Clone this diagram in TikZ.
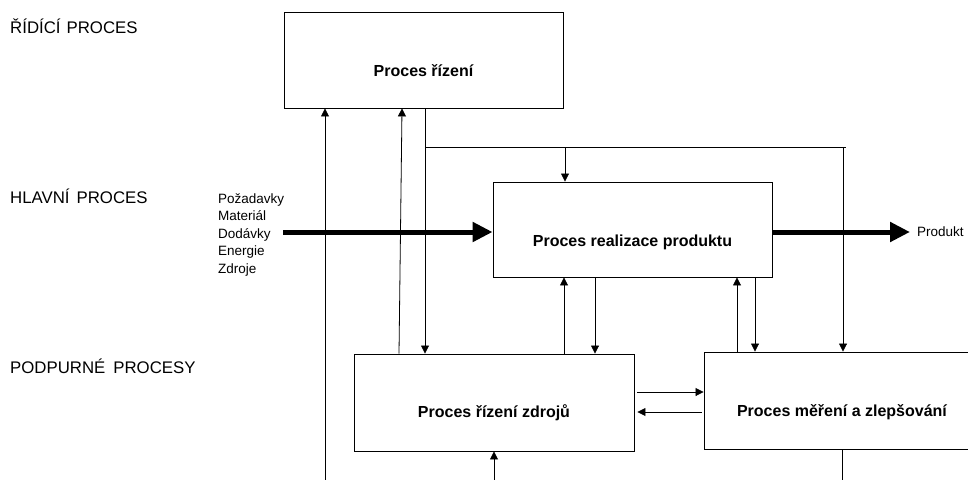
\documentclass[tikz,border=0pt]{standalone}
\usepackage{fontspec}
\setmainfont{Liberation Sans}
\usetikzlibrary{arrows.meta}
\begin{document}
\begin{tikzpicture}[x=1pt,y=-1pt,
  proc/.style={draw, line width=0.9pt, inner sep=0pt, minimum width=279pt, minimum height=96pt},
  ptext/.style={font=\fontsize{16}{19}\selectfont\bfseries, inner sep=0pt},
  lvl/.style={anchor=base west, inner sep=0pt, font=\fontsize{16.8}{20}\selectfont},
  conn/.style={line width=0.8pt},
  arr/.style={conn, -{Triangle[length=8pt,width=8pt]}},
  flow/.style={line width=5pt, -{Triangle[length=20pt,width=19pt]}},
]
\clip (0,0) rectangle (968,479);

% level captions
\node[lvl] (lvlA) at (10,33) {ŘÍDÍCÍ\hspace{6pt}PROCES};
\node[lvl] (lvlB) at (10,203) {HLAVNÍ\hspace{7pt}PROCES};
\node[lvl] (lvlC) at (10,373) {PODPURNÉ\hspace{8pt}PROCESY};

% process boxes
\node[proc] (ctrl) at (423.5,60) {};
\node[ptext] (ctrlT) at (423.5,71) {Proces řízení};
\node[proc, minimum height=95pt] (real) at (632.5,229.5) {};
\node[ptext] (realT) at (632.5,242) {Proces realizace produktu};
\node[proc, minimum width=280pt, minimum height=97pt] (res) at (494,402.5) {};
\node[ptext] (resT) at (494,413) {Proces řízení zdrojů};
\node[proc, minimum width=280pt, minimum height=97pt] (meas) at (844,400.5) {};
\node[ptext] (measT) at (842,412) {Proces měření a zlepšování};

% inputs and output (base of a multi-line node is its last line)
\node[anchor=base west, inner sep=0pt, align=left,
      font=\fontsize{13.5}{17.5}\selectfont] (inputs) at (218,273)
  {Požadavky\\Materiál\\Dodávky\\Energie\\Zdroje};
\node[anchor=west, inner sep=0pt, font=\fontsize{13.5}{16}\selectfont] (prod) at (917,232) {Produkt};
\coordinate (inStart) at (283,232);
\draw[flow] (inStart) -- (real.west |- inStart);
\draw[flow] (real.east |- inStart) -- ([xshift=-7pt]prod.west);

% free ends at the lower edge
\coordinate (b1) at (325,482);
\coordinate (b2) at (494,482);
\coordinate (b3) at (842,482);
\coordinate (h1) at (425,147);
\coordinate (h2) at (846,147);

% control loop
\draw[arr] (b1) -- (ctrl.south -| b1);
\draw[arr] (res.north -| 399,0) -- (ctrl.south -| 402,0);
\draw[conn] (ctrl.south -| h1) -- (h1) -- (h2);
\draw[arr] (h1) -- (res.north -| h1);
\draw[arr] (h1 -| 565,0) -- (real.north -| 565,0);
\draw[arr] (h2 -| 843,0) -- (meas.north -| 843,0);

% support links to the main process
\draw[arr] (res.north -| 564,0) -- (real.south -| 564,0);
\draw[arr] (real.south -| 595,0) -- (res.north -| 595,0);
\draw[arr] (meas.north -| 737,0) -- (real.south -| 737,0);
\draw[arr] (real.south -| 755,0) -- (meas.north -| 755,0);

% exchange between the support processes
\draw[arr, shorten <=3pt] (res.east |- 0,392) -- (meas.west |- 0,392);
\draw[arr, shorten <=2pt, shorten >=3pt] (meas.west |- 0,412) -- (res.east |- 0,412);

\draw[arr] (b2) -- (res.south -| b2);
\draw[conn] (meas.south -| b3) -- (b3);
\end{tikzpicture}
\end{document}
